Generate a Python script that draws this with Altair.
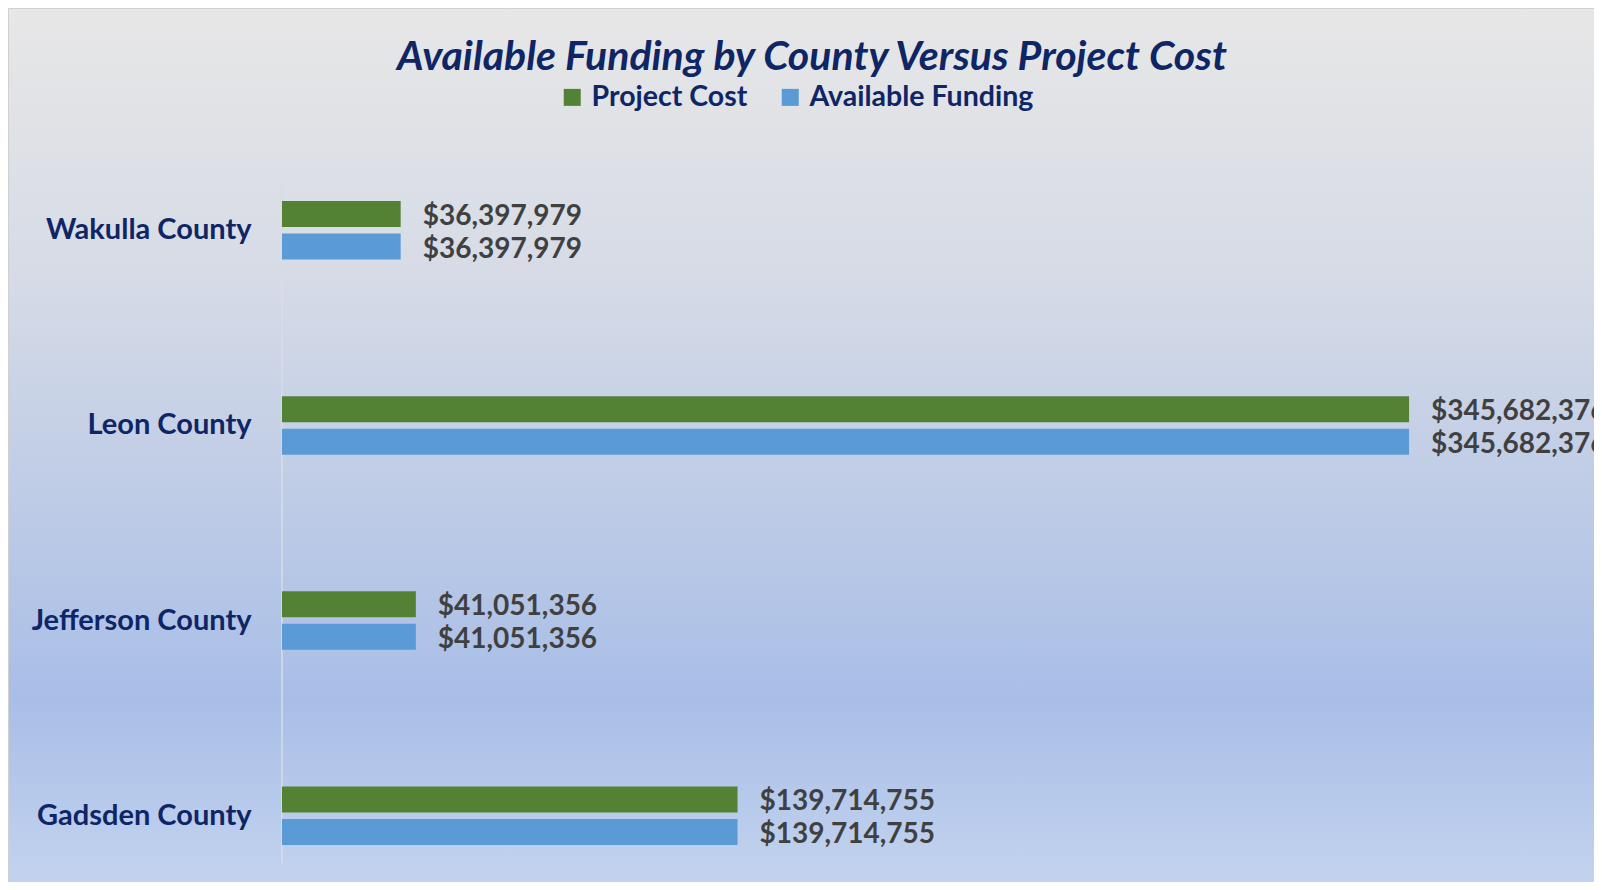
import altair as alt
import pandas as pd

title_text = "Available Funding by County Versus Project Cost"
counties = ["Wakulla County", "Leon County", "Jefferson County", "Gadsden County"]
project_cost = [36397979, 345682376, 41051356, 139714755]
available_funding = [36397979, 345682376, 41051356, 139714755]
series = ["Project Cost", "Available Funding"]
colors = ["#548235", "#5B9BD5"]

rows = []
for c, pc, af in zip(counties, project_cost, available_funding):
    rows.append({"county": c, "series": series[0], "value": pc})
    rows.append({"county": c, "series": series[1], "value": af})
df = pd.DataFrame(rows)

W, H = 1312, 644
PAD_L, PAD_T, PAD_B = 274, 193, 37
NAVY = "#0e2566"

bg = alt.Chart(alt.Data(values=[{}])).mark_rect(
    fill=alt.Gradient(
        gradient="linear",
        stops=[
            alt.GradientStop(color="#e7e7e7", offset=0),
            alt.GradientStop(color="#d6dbe6", offset=0.3),
            alt.GradientStop(color="#a9bee7", offset=0.78),
            alt.GradientStop(color="#c4d4ef", offset=1),
        ],
        x1=0, x2=0, y1=0, y2=1,
    ),
    stroke="#d0d0d0",
    strokeWidth=1,
).encode(
    x=alt.value(-PAD_L + 0.5),
    x2=alt.value(W + 10),
    y=alt.value(-PAD_T + 0.5),
    y2=alt.value(H + PAD_B + 10),
)

title = alt.Chart(alt.Data(values=[{"t": title_text}])).mark_text(
    align="center",
    baseline="middle",
    font="Lato",
    fontSize=41,
    fontWeight="bold",
    fontStyle="italic",
    color=NAVY,
).encode(
    x=alt.value(530),
    y=alt.value(-143),
    text="t:N",
)

axis_line = alt.Chart(alt.Data(values=[{}])).mark_rule(
    color="#d8dde6", strokeWidth=1.5
).encode(
    x=alt.value(0),
    y=alt.value(-19),
    y2=alt.value(662),
)

y_enc = alt.Y(
    "county:N",
    sort=counties,
    scale=alt.Scale(domain=counties, paddingInner=0.7, paddingOuter=0),
    axis=alt.Axis(
        title=None,
        domain=False,
        ticks=False,
        labelFont="Lato",
        labelFontSize=29,
        labelFontWeight="bold",
        labelColor=NAVY,
        labelPadding=31,
        labelLimit=400,
        zindex=1,
    ),
)
yoff = alt.YOffset(
    "series:N",
    sort=series,
    scale=alt.Scale(domain=series, paddingInner=0.2, paddingOuter=0),
)
x_enc = alt.X(
    "value:Q",
    scale=alt.Scale(domain=[0, 402400000], nice=False),
    axis=None,
)

bars = alt.Chart(df).mark_bar(cornerRadius=0).encode(
    x=x_enc,
    y=y_enc,
    yOffset=yoff,
    color=alt.Color(
        "series:N",
        sort=series,
        scale=alt.Scale(domain=series, range=colors),
        legend=alt.Legend(
            title=None,
            orient="none",
            legendX=276,
            legendY=-118,
            direction="horizontal",
            symbolType="square",
            symbolSize=289,
            symbolStrokeWidth=0,
            labelFont="Lato",
            labelFontSize=28.5,
            labelFontWeight="bold",
            labelColor=NAVY,
            labelOffset=5,
            columnPadding=28,
            padding=0,
            labelLimit=400,
            zindex=1,
        ),
    ),
)

labels = alt.Chart(df).mark_text(
    align="left",
    baseline="middle",
    dx=22,
    dy=3,
    font="Lato",
    fontSize=28,
    fontWeight="bold",
    color="#404040",
).encode(
    x=x_enc,
    y=y_enc,
    yOffset=yoff,
    text=alt.Text("value:Q", format="$,.0f"),
)

chart = alt.layer(bg, title, axis_line, bars, labels).properties(
    width=W,
    height=H,
    autosize=alt.AutoSizeParams(type="none"),
    padding={"left": PAD_L, "top": PAD_T, "right": 0, "bottom": PAD_B},
).configure_view(stroke=None).configure(background="white")

chart.save("out.html", embed_options={"renderer": "svg", "actions": False})
